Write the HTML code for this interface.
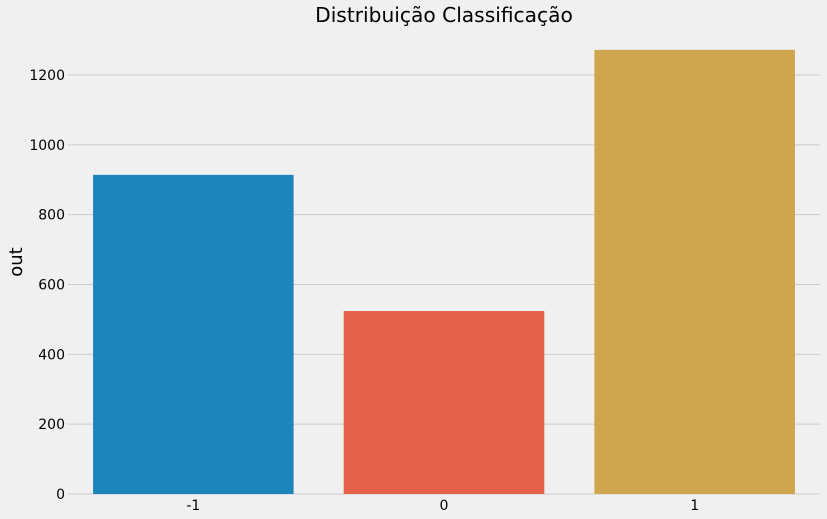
<!DOCTYPE html>
<html>
<head>
<meta charset="utf-8">
<style>
html,body{margin:0;padding:0;background:#f0f0f0;}
svg{display:block;font-family:"DejaVu Sans","Liberation Sans",sans-serif;}
</style>
</head>
<body>
<svg id="chart" width="827" height="519" viewBox="0 0 827 519">
<rect x="0" y="0" width="827" height="519" fill="#f0f0f0"/>
<text x="444" y="22" text-anchor="middle" font-size="20.2" fill="#000">Distribuição Classificação</text>
<text transform="translate(22,262) rotate(-90)" text-anchor="middle" font-size="18" fill="#000">out</text>
<g id="grid"></g>
<g id="bars"></g>
<g id="xticks"></g>
<g id="yticks"></g>
</svg>
<script>
const categories = ["-1", "0", "1"];
const counts = [914, 524, 1272];
const colors = ["#1c86bc", "#e5604a", "#cfa54e"];
const yTicks = [0, 200, 400, 600, 800, 1000, 1200];

const plotLeft = 68, plotRight = 820, y0 = 494, pxPerUnit = 419 / 1200;
const ns = "http://www.w3.org/2000/svg";
function yScale(v){ return y0 - v * pxPerUnit; }
function xScale(i){ const w = (plotRight - plotLeft) / categories.length; return plotLeft + w * (i + 0.5); }
const band = (plotRight - plotLeft) / categories.length * 0.8;

const grid = document.getElementById('grid');
const yt = document.getElementById('yticks');
yTicks.forEach(function(t){
  const l = document.createElementNS(ns,'line');
  l.setAttribute('x1', plotLeft); l.setAttribute('x2', plotRight);
  l.setAttribute('y1', yScale(t)); l.setAttribute('y2', yScale(t));
  l.setAttribute('stroke', '#cbcbcb'); l.setAttribute('stroke-width', '1');
  
  
  grid.appendChild(l);
  const tx = document.createElementNS(ns,'text');
  tx.setAttribute('x', 65); tx.setAttribute('y', yScale(t) + 5);
  tx.setAttribute('text-anchor', 'end'); tx.setAttribute('font-size', '14');
  tx.textContent = t;
  
  
  yt.appendChild(tx);
});

const bars = document.getElementById('bars');
const xt = document.getElementById('xticks');
categories.forEach(function(c, i){
  const r = document.createElementNS(ns,'rect');
  r.setAttribute('x', xScale(i) - band/2);
  r.setAttribute('width', band);
  r.setAttribute('y', yScale(counts[i]));
  r.setAttribute('height', y0 - yScale(counts[i]));
  r.setAttribute('fill', colors[i]);
  
  
  bars.appendChild(r);
  const tx = document.createElementNS(ns,'text');
  tx.setAttribute('x', xScale(i)); tx.setAttribute('y', 510);
  tx.setAttribute('text-anchor', 'middle'); tx.setAttribute('font-size', '14');
  tx.textContent = c;
  
  
  xt.appendChild(tx);
});
</script>
</body>
</html>
